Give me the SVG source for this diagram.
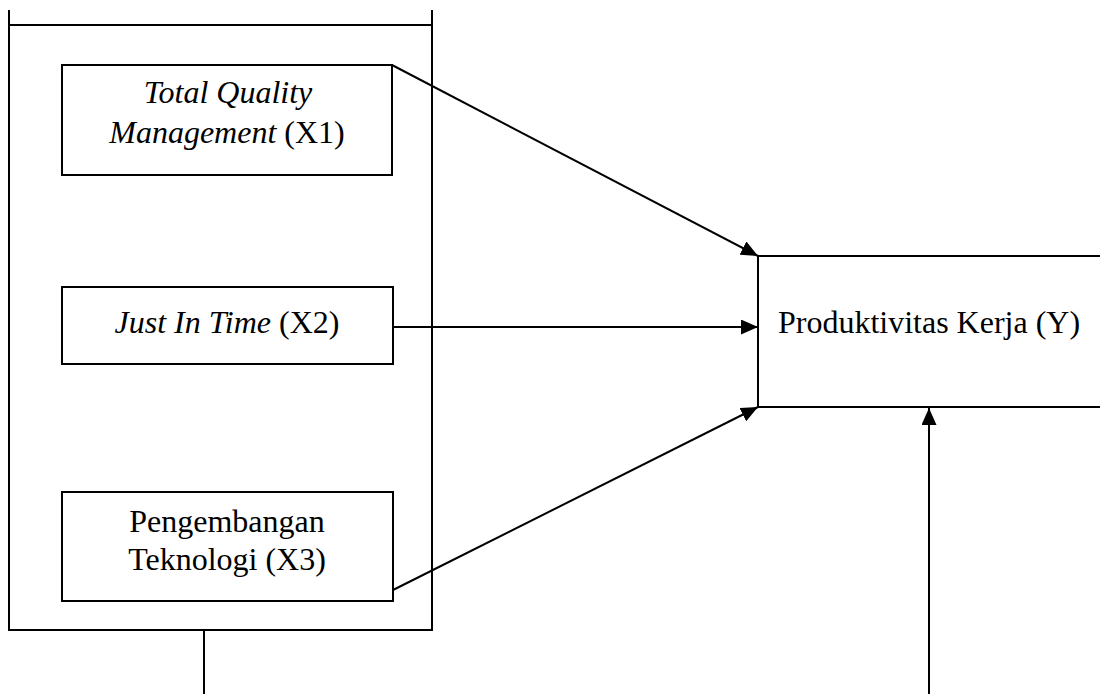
<svg xmlns="http://www.w3.org/2000/svg" width="1100" height="694" viewBox="0 0 1100 694">
<style>
.box{fill:#fff;stroke:#000;stroke-width:2}
.ln{fill:none;stroke:#000;stroke-width:2}
.t{font-family:"Liberation Serif","Times New Roman",serif;font-size:32px;fill:#000;text-anchor:middle}
.i{font-style:italic}
</style>
<defs>
<marker id="ah" viewBox="0 0 17 15" refX="17" refY="7.5" markerWidth="17" markerHeight="15" markerUnits="userSpaceOnUse" orient="auto">
<path d="M0,0 L17,7.5 L0,15 Z" fill="#000"/>
</marker>
</defs>
<g id="outer">
<path class="ln" d="M9,10 V630 H432 V10 M9,25 H432"/>
<path class="ln" d="M204,630 V694"/>
</g>
<g id="x1">
<rect class="box" x="62" y="65" width="330" height="110"/>
<text class="t i" x="228" y="103">Total Quality</text>
<text class="t" x="227" y="143"><tspan class="i">Management</tspan> (X1)</text>
</g>
<g id="x2">
<rect class="box" x="62" y="287" width="331" height="77"/>
<text class="t" x="227" y="333"><tspan class="i">Just In Time</tspan> (X2)</text>
</g>
<g id="x3">
<rect class="box" x="62" y="492" width="331" height="109"/>
<text class="t" x="227" y="532">Pengembangan</text>
<text class="t" x="227" y="570">Teknologi (X3)</text>
</g>
<g id="y">
<path class="box" d="M1102,256 H758 V407 H1102"/>
<text class="t" x="929" y="333">Produktivitas Kerja (Y)</text>
</g>
<g id="connectors">
<line class="ln" x1="392" y1="65" x2="758" y2="256" marker-end="url(#ah)"/>
<line class="ln" x1="393" y1="327" x2="758" y2="327" marker-end="url(#ah)"/>
<line class="ln" x1="393" y1="590" x2="758" y2="407" marker-end="url(#ah)"/>
<line class="ln" x1="929" y1="694" x2="929" y2="408" marker-end="url(#ah)"/>
</g>
</svg>
